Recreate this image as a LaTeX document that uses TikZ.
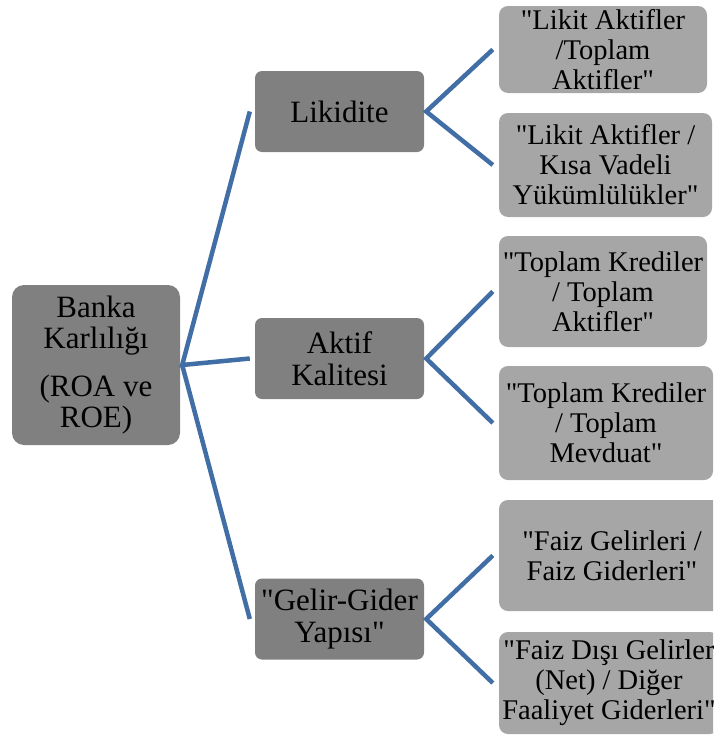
\documentclass[tikz,border=0pt]{standalone}
\usepackage{fontspec}
\setmainfont{Liberation Serif}[Ligatures=TeXOff]
\usetikzlibrary{calc}
\newcommand{\strq}{\symbol{34}}
\definecolor{darkbox}{RGB}{128,128,128}
\definecolor{lightbox}{RGB}{166,166,166}
\definecolor{lineblue}{RGB}{66,110,166}
\tikzset{
  rootbox/.style={fill=darkbox, rounded corners=12pt, align=center, inner sep=0pt,
    font=\fontsize{31}{31}\selectfont},
  midbox/.style={fill=darkbox, rounded corners=7pt, align=center, inner sep=0pt,
    minimum width=169pt, minimum height=81pt, font=\fontsize{31}{32}\selectfont},
  leafbox/.style={fill=lightbox, rounded corners=9pt, align=center, inner sep=0pt,
    font=\fontsize{28.5}{30}\selectfont},
  conn/.style={draw=lineblue, line width=4.5pt, line join=miter}
}
\begin{document}
\begin{tikzpicture}[x=1pt,y=-1pt]
\useasboundingbox (0,0) rectangle (713,736);
\clip (0,0) rectangle (713,736);
% root
\node[rootbox, minimum width=168pt, minimum height=160pt] (root) at (96,365)
  {Banka\\Karlılığı\\[17pt](ROA ve\\ROE)};
% level 1
\node[midbox] (lik) at (339.5,111.5) {Likidite};
\node[midbox] (akt) at (339.5,358.5) {Aktif\\Kalitesi};
\node[midbox] (gel) at (339.5,619) {\strq Gelir-Gider\\Yapısı\strq};
% leaves
\node[leafbox, minimum width=208pt, minimum height=87pt] (l1) at (603,49.5)
  {\strq Likit Aktifler\\/Toplam\\Aktifler\strq};
\node[leafbox, minimum width=213pt, minimum height=104pt] (l2) at (605.5,165)
  {\strq Likit Aktifler /\\Kısa Vadeli\\Yükümlülükler\strq};
\node[leafbox, minimum width=208pt, minimum height=111pt] (l3) at (603,291.5)
  {\strq Toplam Krediler\\/ Toplam\\Aktifler\strq};
\node[leafbox, minimum width=214pt, minimum height=114pt] (l4) at (606,423)
  {\strq Toplam Krediler\\/ Toplam\\Mevduat\strq};
\node[leafbox, minimum width=226pt, minimum height=111pt] (l5) at (612,555.5)
  {\strq Faiz Gelirleri /\\Faiz Giderleri\strq};
\node[leafbox, minimum width=220pt, minimum height=102pt] (l6) at (609,683)
  {\strq Faiz Dışı Gelirler\\(Net) / Diğer\\Faaliyet Giderleri\strq};
% connector points
\coordinate (r0) at ($(root.east)+(2,0)$);
\coordinate (likin) at ($(lik.west)+(-5,0)$);
\coordinate (aktin) at ($(akt.west)+(-5,0)$);
\coordinate (gelin) at ($(gel.west)+(-5,0)$);
\coordinate (likout) at ($(lik.east)+(2,0)$);
\coordinate (aktout) at ($(akt.east)+(2,0)$);
\coordinate (gelout) at ($(gel.east)+(2,0)$);
\coordinate (l1in) at ($(l1.west)+(-6,0)$);
\coordinate (l2in) at ($(l2.west)+(-6,0)$);
\coordinate (l3in) at ($(l3.west)+(-6,0)$);
\coordinate (l4in) at ($(l4.west)+(-6,0)$);
\coordinate (l5in) at ($(l5.west)+(-6,0)$);
\coordinate (l6in) at ($(l6.west)+(-6,0)$);
% connectors
\draw[conn] (likin) -- (r0) -- (aktin);
\draw[conn] (r0) -- (gelin);
\draw[conn] (l1in) -- (likout) -- (l2in);
\draw[conn] (l3in) -- (aktout) -- (l4in);
\draw[conn] (l5in) -- (gelout) -- (l6in);
\end{tikzpicture}
\end{document}
